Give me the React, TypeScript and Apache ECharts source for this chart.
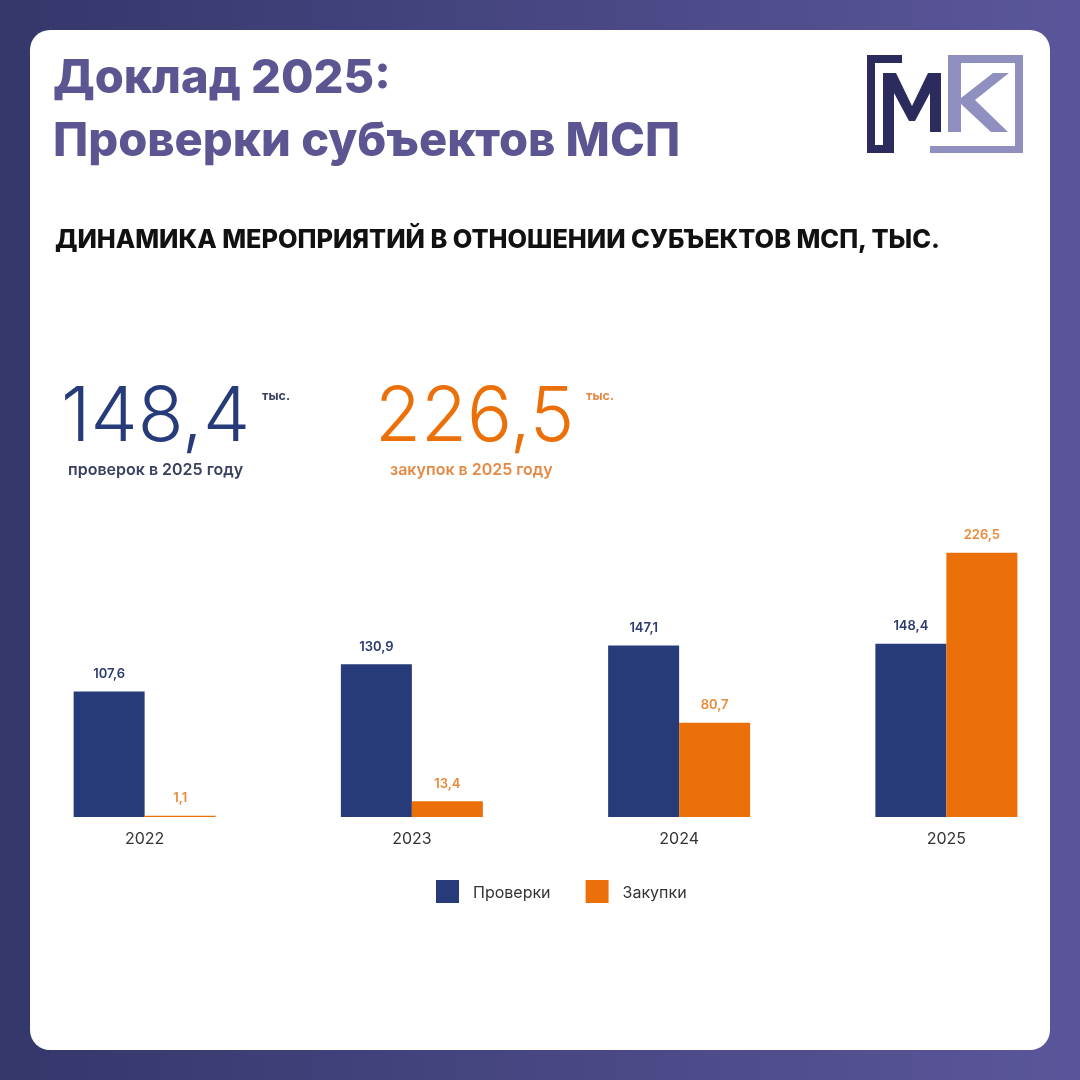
import React, { useEffect, useRef } from "react";
import * as echarts from "echarts";

const years = ["2022", "2023", "2024", "2025"];
const inspections = [107.6, 130.9, 147.1, 148.4];
const purchases = [1.1, 13.4, 80.7, 226.5];
const seriesNames = ["Проверки", "Закупки"];

const NAVY = "#273a79";
const ORANGE = "#eb7009";
const TITLE = "#5b5592";
const FONT = "Inter, 'Noto Sans', sans-serif";

const fmt = (v: number) => v.toFixed(1).replace(".", ",");

export default function App() {
  const ref = useRef<HTMLDivElement>(null);
  useEffect(() => {
    const chart = echarts.init(ref.current!, null, { renderer: "svg" });
    const dark = "#2b2b5e";
    const light = "#8f90bf";
    chart.setOption({
      animation: false,
      graphic: [
        {
          type: "rect",
          z: -10,
          shape: { x: 0, y: 0, width: 1080, height: 1080 },
          style: {
            fill: new echarts.graphic.LinearGradient(0, 0, 1, 0, [
              { offset: 0, color: "#33376a" },
              { offset: 1, color: "#5b569b" },
            ]),
          },
        },
        {
          type: "rect",
          z: -9,
          shape: { x: 30, y: 30, width: 1020, height: 1020, r: 20 },
          style: { fill: "#ffffff" },
        },
        {
          type: "text",
          left: 53,
          top: 44,
          style: {
            text: "Доклад 2025:\nПроверки субъектов МСП",
            font: `800 47px ${FONT}`,
            fill: TITLE,
            lineHeight: 63,
          },
        },
        {
          type: "text",
          left: 55,
          top: 226,
          style: {
            text: "ДИНАМИКА МЕРОПРИЯТИЙ В ОТНОШЕНИИ СУБЪЕКТОВ МСП, ТЫС.",
            font: `800 25.3px ${FONT}`,
            fill: "#111111",
          },
        },
        {
          type: "text",
          x: 61,
          y: 413,
          style: {
            text: fmt(inspections[3]),
            font: `300 75px ${FONT}`,
            fill: NAVY,
            lineHeight: 75,
            verticalAlign: "middle",
          },
        },
        {
          type: "text",
          left: 262,
          top: 389,
          style: { text: "тыс.", font: `700 12.5px ${FONT}`, fill: "#3a4060" },
        },
        {
          type: "text",
          left: 68,
          top: 461,
          style: { text: "проверок в 2025 году", font: `600 16px ${FONT}`, fill: "#3a4060" },
        },
        {
          type: "text",
          x: 375,
          y: 413,
          style: {
            text: fmt(purchases[3]),
            font: `300 75px ${FONT}`,
            fill: ORANGE,
            lineHeight: 75,
            verticalAlign: "middle",
          },
        },
        {
          type: "text",
          left: 586,
          top: 389,
          style: { text: "тыс.", font: `700 12.5px ${FONT}`, fill: "#e58a45" },
        },
        {
          type: "text",
          left: 390,
          top: 461,
          style: { text: "закупок в 2025 году", font: `600 16px ${FONT}`, fill: "#e58a45" },
        },
        // logo - dark part
        { type: "rect", shape: { x: 867, y: 55, width: 35, height: 8 }, style: { fill: dark } },
        { type: "rect", shape: { x: 867, y: 55, width: 8, height: 98 }, style: { fill: dark } },
        { type: "rect", shape: { x: 867, y: 145, width: 27, height: 8 }, style: { fill: dark } },
        {
          type: "polygon",
          shape: {
            points: [
              [883, 73], [896, 73], [912, 106], [928, 73], [941, 73], [941, 132],
              [930, 132], [930, 93], [915, 121], [909, 121], [894, 93], [894, 153], [883, 153],
            ],
          },
          style: { fill: dark },
        },
        // logo - light part
        { type: "rect", shape: { x: 948, y: 55, width: 75, height: 8 }, style: { fill: light } },
        { type: "rect", shape: { x: 1015, y: 55, width: 8, height: 98 }, style: { fill: light } },
        { type: "rect", shape: { x: 930, y: 146, width: 93, height: 7 }, style: { fill: light } },
        { type: "rect", shape: { x: 948, y: 55, width: 13, height: 77 }, style: { fill: light } },
        {
          type: "polygon",
          shape: {
            points: [
              [961, 98], [993, 73], [1009, 73], [975, 100], [1008, 132], [991, 132], [961, 104],
            ],
          },
          style: { fill: light },
        },
      ],
      legend: {
        left: 436,
        top: 880,
        padding: 0,
        itemWidth: 23,
        itemHeight: 23,
        itemGap: 35,
        icon: "rect",
        data: seriesNames,
        textStyle: { fontSize: 16, color: "#333333", fontFamily: FONT, padding: [0, 0, 0, 9] },
      },
      grid: { left: 11, top: 467, width: 1072, height: 350 },
      xAxis: {
        type: "category",
        data: years,
        axisLine: { show: false },
        axisTick: { show: false },
        axisLabel: { fontSize: 16, color: "#333333", fontFamily: FONT, margin: 13 },
      },
      yAxis: { type: "value", min: 0, max: 300, show: false, splitLine: { show: false } },
      series: [
        {
          name: seriesNames[0],
          type: "bar",
          data: inspections,
          barWidth: 71,
          barGap: "0%",
          itemStyle: { color: NAVY },
          label: {
            show: true,
            position: "top",
            distance: 12,
            formatter: (p: any) => fmt(p.value),
            fontSize: 13,
            fontWeight: 600,
            color: "#2c3a70",
            fontFamily: FONT,
          },
        },
        {
          name: seriesNames[1],
          type: "bar",
          data: purchases,
          barWidth: 71,
          barGap: "0%",
          itemStyle: { color: ORANGE },
          label: {
            show: true,
            position: "top",
            distance: 12,
            formatter: (p: any) => fmt(p.value),
            fontSize: 13,
            fontWeight: 600,
            color: "#e98a3a",
            fontFamily: FONT,
          },
        },
      ],
    });
    return () => chart.dispose();
  }, []);
  return (
    <div
      ref={ref}
      style={{ position: "fixed", left: 0, top: 0, width: 1080, height: 1080 }}
    />
  );
}
